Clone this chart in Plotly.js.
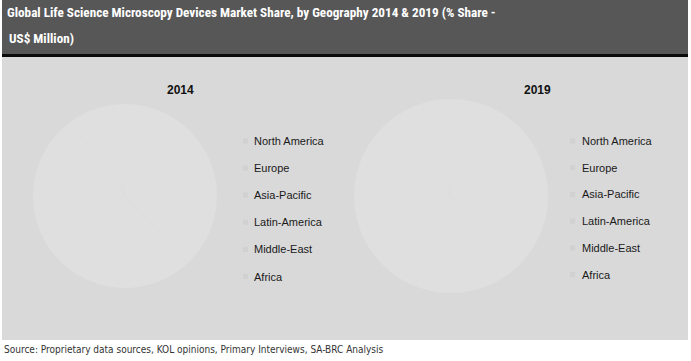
<!DOCTYPE html>
<html>
<head>
<meta charset="utf-8">
<script src="https://cdn.plot.ly/plotly-3.0.1.min.js"></script>
<style>html,body{margin:0;padding:0;background:#fff;}#chart{width:691px;height:361px;}</style>
</head>
<body>
<div id="chart"></div>
<script>
// ---- data ----
const regions = ["North America", "Europe", "Asia-Pacific", "Latin-America", "Middle-East", "Africa"];
const share2014 = [38, 30, 22, 5, 3, 2];
const share2019 = [36, 28, 26, 5, 3, 2];
const sliceColors = ["#dfdfdf", "#dfdfdf", "#dfdfdf", "#dfdfdf", "#dfdfdf", "#dfdfdf"];
const yearLabels = ["2014", "2019"];
const titleLine1 = "Global Life Science Microscopy Devices Market Share, by Geography 2014 & 2019 (% Share -";
const titleLine2 = "US$ Million)";
const sourceText = "Source: Proprietary data sources, KOL opinions, Primary Interviews, SA-BRC Analysis";

const W = 691, H = 361;
const px = x => x / W;
const py = y => 1 - y / H;
const titleFont = {family: "Roboto Condensed, Liberation Sans Narrow, DejaVu Sans Condensed, Arial", size: 13.2, color: "#ffffff", weight: "bold"};

const traces = [
  {type: "pie", labels: regions, values: share2014, sort: false, direction: "clockwise",
   marker: {colors: sliceColors, line: {width: 0}}, textinfo: "none", hoverinfo: "label+percent",
   domain: {x: [px(33), px(217)], y: [py(288), py(104)]}, showlegend: false},
  {type: "pie", labels: regions, values: share2019, sort: false, direction: "clockwise",
   marker: {colors: sliceColors, line: {width: 0}}, textinfo: "none", hoverinfo: "label+percent",
   domain: {x: [px(354), px(548)], y: [py(293), py(99)]}, showlegend: false}
];

const shapes = [
  {type: "rect", xref: "paper", yref: "paper", x0: px(2), x1: px(688), y0: py(54), y1: py(0), fillcolor: "#575757", line: {width: 0}, layer: "below"},
  {type: "rect", xref: "paper", yref: "paper", x0: px(2), x1: px(688), y0: py(57), y1: py(54), fillcolor: "#0a0a0a", line: {width: 0}, layer: "below"},
  {type: "rect", xref: "paper", yref: "paper", x0: px(2), x1: px(688), y0: py(340), y1: py(57), fillcolor: "#d9d9d9", line: {width: 0}, layer: "below"}
];

const annotations = [
  {text: titleLine2, xref: "paper", yref: "paper", x: px(7), y: py(38), xanchor: "left", yanchor: "middle", showarrow: false, font: titleFont},
  {text: sourceText, xref: "paper", yref: "paper", x: px(2), y: py(349), xanchor: "left", yanchor: "middle", showarrow: false,
   font: {family: "DejaVu Sans Condensed, Tahoma, sans-serif", size: 10, color: "#333333"}},
  {text: "<b>" + yearLabels[0] + "</b>", xref: "paper", yref: "paper", x: px(181), y: py(90), xanchor: "center", yanchor: "middle", showarrow: false,
   font: {family: "Liberation Sans, Arial", size: 12, color: "#111111"}},
  {text: "<b>" + yearLabels[1] + "</b>", xref: "paper", yref: "paper", x: px(537), y: py(90), xanchor: "center", yanchor: "middle", showarrow: false,
   font: {family: "Liberation Sans, Arial", size: 12, color: "#111111"}}
];

// legends (built from the regions array)
const legendSets = [
  {textX: 252, swX: 243, y0: 141, step: 27.1},
  {textX: 580, swX: 570, y0: 141, step: 26.7}
];
legendSets.forEach(ls => {
  regions.forEach((r, i) => {
    const y = ls.y0 + i * ls.step;
    annotations.push({text: r, xref: "paper", yref: "paper", x: px(ls.textX), y: py(y), xanchor: "left", yanchor: "middle",
      showarrow: false, font: {family: "Liberation Sans, Arial", size: 11, color: "#1a1a1a"}});
    shapes.push({type: "rect", xref: "paper", yref: "paper", x0: px(ls.swX), x1: px(ls.swX + 5), y0: py(y + 2.5), y1: py(y - 2.5),
      fillcolor: "#d1d1d1", line: {width: 0}});
  });
});

const layout = {
  width: W, height: H,
  margin: {l: 0, r: 0, t: 0, b: 0},
  paper_bgcolor: "#ffffff",
  showlegend: false,
  title: {text: titleLine1, x: px(7), xref: "paper", xanchor: "left", y: py(12), yref: "paper", yanchor: "middle", font: titleFont},
  shapes: shapes,
  annotations: annotations
};

Plotly.newPlot("chart", traces, layout, {displayModeBar: false, staticPlot: true});
</script>
</body>
</html>
